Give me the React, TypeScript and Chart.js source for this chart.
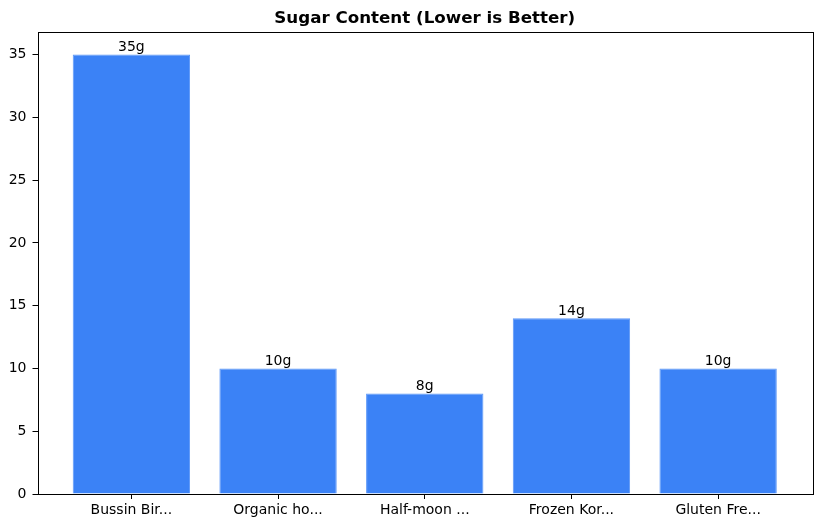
import { BarController, BarElement, Chart, LinearScale } from 'chart.js';
import { useEffect, useRef } from 'react';

// data
const categories = ['Bussin Bir...', 'Organic ho...', 'Half-moon ...', 'Frozen Kor...', 'Gluten Fre...'];
const sugarGrams = [35, 10, 8, 14, 10];
const yTicks = [0, 5, 10, 15, 20, 25, 30, 35];
const title = 'Sugar Content (Lower is Better)';

Chart.register(BarController, BarElement, LinearScale);

const FONT = "'DejaVu Sans', sans-serif";

// axes frame, title and the value labels above the bars
const decorPlugin = {
  id: 'decor',
  afterDatasetsDraw(chart: Chart) {
    const { ctx, chartArea } = chart;
    ctx.save();
    ctx.strokeStyle = '#000';
    ctx.lineWidth = 1;
    ctx.strokeRect(
      Math.round(chartArea.left) + 0.5,
      Math.round(chartArea.top) + 0.5,
      Math.round(chartArea.right - chartArea.left),
      Math.round(chartArea.bottom - chartArea.top)
    );

    ctx.fillStyle = '#000';
    ctx.font = `14px ${FONT}`;
    ctx.textAlign = 'center';
    ctx.textBaseline = 'bottom';
    const meta = chart.getDatasetMeta(0);
    meta.data.forEach((bar: any, i: number) => {
      ctx.fillText(`${sugarGrams[i]}g`, bar.x, bar.y);
    });

    ctx.font = `bold 16.7px ${FONT}`;
    ctx.textBaseline = 'alphabetic';
    ctx.fillText(title, (chartArea.left + chartArea.right) / 2, 23);
    ctx.restore();
  },
};

export default function App() {
  const chartRef = useRef<HTMLCanvasElement>(null);
  const chartInstanceRef = useRef<Chart | null>(null);

  useEffect(() => {
    const ctx = chartRef.current!.getContext('2d');
    if (chartInstanceRef.current) {
      chartInstanceRef.current.destroy();
    }
    chartInstanceRef.current = new Chart(ctx!, {
      type: 'bar',
      data: {
        datasets: [
          {
            data: sugarGrams.map((v, i) => ({ x: i, y: v })),
            backgroundColor: '#3b82f6',
            borderColor: '#5c97f8',
            borderWidth: 1,
            barPercentage: 0.8,
            categoryPercentage: 1,
          },
        ],
      },
      options: {
        animation: false,
        responsive: false,
        devicePixelRatio: 1,
        layout: { padding: { left: 0, right: 10, top: 32, bottom: 0 } },
        plugins: { legend: { display: false }, tooltip: { enabled: false } },
        scales: {
          x: {
            type: 'linear',
            min: -0.64,
            max: 4.64,
            offset: false,
            border: { display: false },
            grid: { drawOnChartArea: false, offset: false, tickLength: 5, color: '#000' },
            ticks: {
              color: '#000',
              font: { family: FONT, size: 14 },
              padding: 3,
              maxRotation: 0,
              autoSkip: false,
              callback: (v: any) => categories[v as number] ?? '',
            },
            afterBuildTicks: (axis: any) => {
              axis.ticks = categories.map((_, i) => ({ value: i }));
            },
            afterFit: (axis: any) => {
              axis.height = 34;
            },
          },
          y: {
            type: 'linear',
            min: 0,
            max: 36.8,
            border: { display: false },
            grid: { drawOnChartArea: false, tickLength: 5, color: '#000' },
            ticks: {
              color: '#000',
              font: { family: FONT, size: 14 },
              padding: 6,
            },
            afterBuildTicks: (axis: any) => {
              axis.ticks = yTicks.map((v) => ({ value: v }));
            },
            afterFit: (axis: any) => {
              axis.width = 37.5;
            },
          },
        },
      },
      plugins: [decorPlugin],
    });
    return () => {
      if (chartInstanceRef.current) {
        chartInstanceRef.current.destroy();
      }
    };
  }, []);

  return (
    <div style={{ position: 'absolute', left: 0, top: 0, width: 822, height: 528, background: '#fff' }}>
      <canvas ref={chartRef} width="822" height="528"></canvas>
    </div>
  );
}
